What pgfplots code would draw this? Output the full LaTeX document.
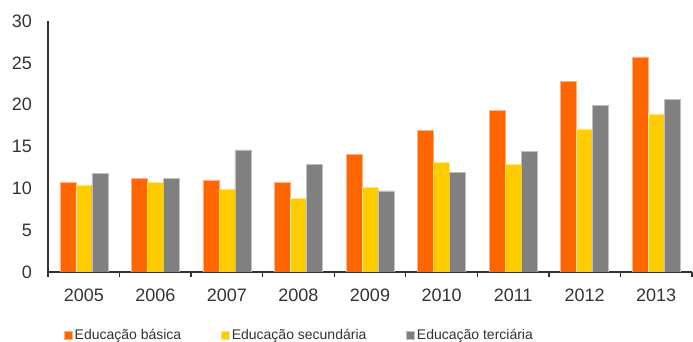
\documentclass[border=0pt]{standalone}
\usepackage{pgfplots}
\pgfplotsset{compat=1.18}
\usepackage{fontspec}
\setmainfont{Liberation Sans}
\definecolor{cOrange}{HTML}{FF6600}
\definecolor{cYellow}{HTML}{FFCC00}
\definecolor{cGray}{HTML}{808080}
\definecolor{cAxis}{HTML}{333333}
\begin{document}
\begin{tikzpicture}
\useasboundingbox (0pt,0pt) rectangle (693pt,342pt);
\begin{axis}[
  at={(48pt,70pt)}, anchor=south west,
  scale only axis, width=644pt, height=251pt,
  ymin=0, ymax=30, xmin=-0.5, xmax=8.5,
  ybar=0pt, bar width=16pt,
  axis x line*=bottom, axis y line*=left,
  axis line style={cAxis, line width=1.3pt},
  ytick={0,5,...,30},
  xtick={0,1,...,8},
  xticklabels={2005,2006,2007,2008,2009,2010,2011,2012,2013},
  major tick length=0pt,
  extra x ticks={-0.5,0.5,...,8.5},
  extra x tick labels={},
  extra x tick style={major tick length=5pt, tick align=outside, tick style={cAxis, line width=1.3pt}},
  /pgf/number format/assume math mode=true,
  ticklabel style={font=\fontsize{18}{18}\selectfont, text=cAxis},
  yticklabel style={anchor=east, inner sep=0pt, xshift=-16pt},
  xticklabel style={anchor=north, inner sep=0pt, yshift=-17pt},
  legend columns=3,
  legend style={at={(0.0248,-0.251)}, anchor=west, draw=none, fill=none, inner sep=0pt,
    font=\fontsize{14}{14}\selectfont, text=cAxis,
    /tikz/every even column/.append style={column sep=38pt},
    nodes={inner xsep=2pt, inner ysep=0pt}},
  legend image code/.code={\fill[#1] (0pt,-4pt) rectangle (8pt,4pt);},
]
\addplot[fill=cOrange, draw=cOrange!50!white, line width=0.5pt] coordinates {(0,10.7) (1,11.2) (2,10.95) (3,10.7) (4,14.1) (5,16.9) (6,19.3) (7,22.8) (8,25.7)};
\addplot[fill=cYellow, draw=cYellow!50!white, line width=0.5pt] coordinates {(0,10.4) (1,10.7) (2,9.9) (3,8.8) (4,10.15) (5,13.1) (6,12.9) (7,17.1) (8,18.9)};
\addplot[fill=cGray, draw=cGray!50!white, line width=0.5pt] coordinates {(0,11.8) (1,11.2) (2,14.6) (3,12.9) (4,9.7) (5,11.9) (6,14.45) (7,19.9) (8,20.6)};
\legend{Educação básica, Educação secundária, Educação terciária}
\end{axis}
\end{tikzpicture}
\end{document}
